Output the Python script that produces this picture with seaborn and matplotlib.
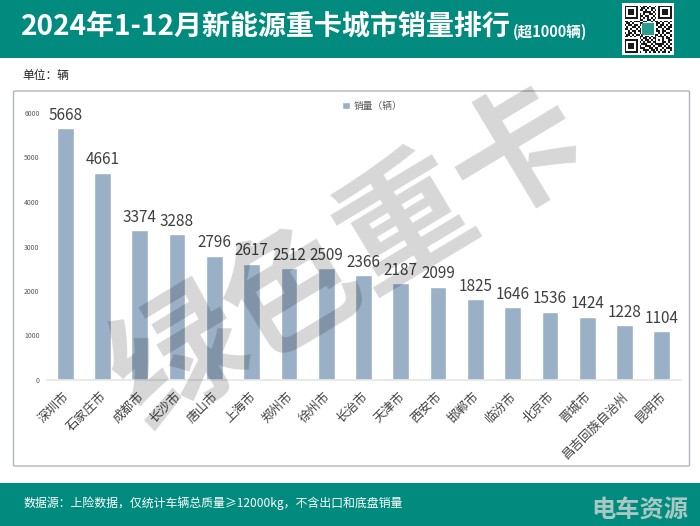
import matplotlib
matplotlib.use('Agg')
from matplotlib import pyplot as plt
from matplotlib.patches import FancyBboxPatch, Rectangle
from matplotlib.transforms import ScaledTranslation
import numpy as np
import pandas as pd
import seaborn as sns

# Data
cities = ['深圳市', '石家庄市', '成都市', '长沙市', '唐山市', '上海市', '郑州市', '徐州市', '长治市',
          '天津市', '西安市', '邯郸市', '临汾市', '北京市', '晋城市', '昌吉回族自治州', '昆明市']
sales = [5668, 4661, 3374, 3288, 2796, 2617, 2512, 2509, 2366, 2187, 2099, 1825, 1646, 1536, 1424, 1228, 1104]
y_ticks = [0, 1000, 2000, 3000, 4000, 5000, 6000]
series_name = '销量（辆）'

# decorative QR-like pattern for the header
qr_rows = [
    '1111111010110100101111111',
    '1000001001101011001000001',
    '1011101011010010101011101',
    '1011101000111101001011101',
    '1011101010100110101011101',
    '1000001011011001001000001',
    '1111111010101010101111111',
    '0000000011001101000000000',
    '1101011100110010110101101',
    '0110100011000000011010010',
    '1011011010000000010110101',
    '0100110100000000001101011',
    '1101001010000000010010110',
    '0010110110000000011011001',
    '1011010010000000001010110',
    '0110101101000000110101001',
    '1101010011011010101110101',
    '0000000010110101100010110',
    '1111111001011010101010011',
    '1000001010101101100011010',
    '1011101001110010111110101',
    '1011101010011101001101010',
    '1011101011100110110010111',
    '1000001000111011010101001',
    '1111111010010101101011010',
]

W, H = 700, 526
sns.set_theme(style='white')
plt.rcParams['font.family'] = ['Noto Sans CJK SC', 'DejaVu Sans']

fig = plt.figure(figsize=(W / 100, H / 100), dpi=100, facecolor='white')
TEAL = '#018b7e'


def fx(px):
    return px / W


def fy(py):
    return 1 - py / H


# Header, footer and chart panel
fig.patches.append(Rectangle((0, fy(58)), 1, 58 / H, transform=fig.transFigure, color=TEAL, lw=0, zorder=0))
fig.patches.append(Rectangle((0, 0), 1, (H - 483) / H, transform=fig.transFigure, color=TEAL, lw=0, zorder=0))
fig.patches.append(FancyBboxPatch((fx(13.5), fy(466)), 676 / W, 375 / H, transform=fig.transFigure,
                                  boxstyle='round,pad=0,rounding_size=0.002', fc='white', ec='#aeb6bc', lw=1, zorder=0))

# Bars
df = pd.DataFrame({'city': cities, 'sales': sales})
ax = fig.add_axes([fx(46.5), fy(380), 634 / W, 267 / H], zorder=2)
ax.patch.set_visible(False)
sns.barplot(data=df, x='city', y='sales', color='#9ab0c7', saturation=1, width=0.45, label=series_name, ax=ax)
ax.set_xlim(-0.5, len(cities) - 0.5)
ax.set_ylim(0, 6000)
ax.set_xlabel('')
ax.set_ylabel('')
ax.set_yticks(y_ticks)
ax.tick_params(axis='y', labelsize=5, labelcolor='#595959', length=0, pad=5)
ax.tick_params(axis='x', labelsize=9, labelcolor='#404040', length=0, pad=7)
plt.setp(ax.get_xticklabels(), rotation=45, ha='right', rotation_mode='anchor')
# nudge the slanted labels left so they end under the bar centres
nudge = ScaledTranslation(-3 / 100, 0, fig.dpi_scale_trans)
for lab in ax.get_xticklabels():
    lab.set_transform(lab.get_transform() + nudge)
sns.despine(ax=ax, left=True)
ax.spines['bottom'].set_color('#e6e6e6')
ax.bar_label(ax.containers[0], fontsize=11, color='#404040', padding=3)
ax.legend(loc='center', bbox_to_anchor=(fx(372), fy(106)), bbox_transform=fig.transFigure, frameon=False,
          fontsize=7, labelcolor='#595959', handlelength=0.8, handleheight=0.8, handletextpad=0.4)

# Texts
fig.text(fx(21), fy(27), '2024年1-12月新能源重卡城市销量排行', color='white', fontsize=20.2,
         fontweight='bold', va='center', zorder=3)
fig.text(fx(513), fy(32), '(超1000辆)', color='white', fontsize=10.5, fontweight='bold', va='center', zorder=3)
fig.text(fx(22), fy(75), '单位：辆', color='#222222', fontsize=8.5, va='center', zorder=3)
fig.text(fx(23), fy(503), '数据源：上险数据，仅统计车辆总质量≥12000kg，不含出口和底盘销量', color='white',
         fontsize=8.6, va='center', zorder=3)
fig.text(fx(640), fy(511), '电车资源', color='#a8c8c4', fontsize=17.5, fontweight='bold',
         ha='center', va='center', zorder=3)

# Watermark sits over the bars
fig.text(fx(350), fy(259), '绿色重卡', color='black', alpha=0.16, fontsize=95, fontweight='bold',
         rotation=31, rotation_mode='anchor', ha='center', va='center', zorder=5)

# QR block
fig.patches.append(Rectangle((fx(622), fy(55)), 52 / W, 52 / H, transform=fig.transFigure, color='white', lw=0, zorder=1))
qr_ax = fig.add_axes([fx(624.5), fy(52.5), 47 / W, 47 / H], zorder=3)
qr_img = np.array([[int(c) for c in row] for row in qr_rows])
sns.heatmap(qr_img, cmap=['white', '#1a1a1a'], cbar=False, xticklabels=False, yticklabels=False, ax=qr_ax)
qr_ax.add_patch(Rectangle((9.5, 9.5), 6, 6, color='#2a9d8f', lw=0))

fig.savefig('out.png', dpi=100)
